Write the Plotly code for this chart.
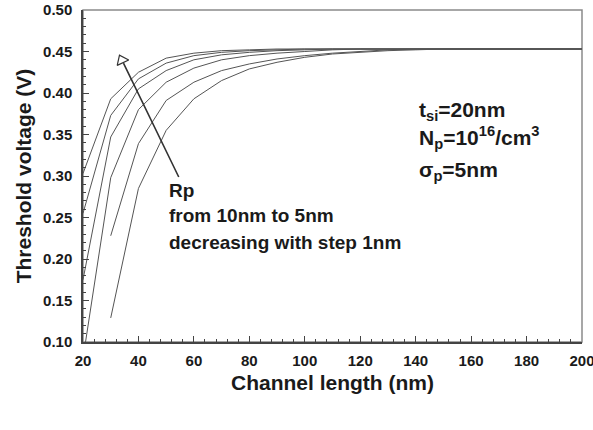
import plotly.graph_objects as go

# Channel length (nm)
L_full = [20, 30, 40, 50, 60, 70, 80, 90, 100, 110, 120, 130, 140, 150, 160, 170, 180, 190, 200]
L_late = L_full[1:]

# Threshold voltage (V) for Rp = 5 ... 10 nm
vt_rp5 = [0.303, 0.393, 0.425, 0.442, 0.448, 0.451, 0.452, 0.453, 0.453, 0.453, 0.453, 0.453, 0.453,
          0.453, 0.453, 0.453, 0.453, 0.453, 0.453]
vt_rp6 = [0.255, 0.373, 0.417, 0.436, 0.445, 0.449, 0.451, 0.452, 0.453, 0.453, 0.453, 0.453, 0.453,
          0.453, 0.453, 0.453, 0.453, 0.453, 0.453]
vt_rp7 = [0.175, 0.347, 0.405, 0.427, 0.440, 0.446, 0.449, 0.451, 0.452, 0.453, 0.453, 0.453, 0.453,
          0.453, 0.453, 0.453, 0.453, 0.453, 0.453]
vt_rp8 = [0.080, 0.298, 0.380, 0.413, 0.430, 0.440, 0.445, 0.448, 0.450, 0.452, 0.453, 0.453, 0.453,
          0.453, 0.453, 0.453, 0.453, 0.453, 0.453]
vt_rp9 = [0.228, 0.339, 0.391, 0.413, 0.427, 0.435, 0.441, 0.445, 0.448, 0.450, 0.452, 0.453,
          0.453, 0.453, 0.453, 0.453, 0.453, 0.453]
vt_rp10 = [0.129, 0.285, 0.355, 0.393, 0.415, 0.429, 0.437, 0.443, 0.447, 0.449, 0.451, 0.452,
           0.453, 0.453, 0.453, 0.453, 0.453, 0.453]

series = [
    ("Rp=5nm", L_full, vt_rp5),
    ("Rp=6nm", L_full, vt_rp6),
    ("Rp=7nm", L_full, vt_rp7),
    ("Rp=8nm", L_full, vt_rp8),
    ("Rp=9nm", L_late, vt_rp9),
    ("Rp=10nm", L_late, vt_rp10),
]

FONT = "Liberation Sans, Arial, sans-serif"
LINE_C = "#555555"

fig = go.Figure()
for name, xs, ys in series:
    fig.add_trace(go.Scatter(x=xs, y=ys, mode="lines", name=name,
                             line=dict(color=LINE_C, width=1), showlegend=False,
                             cliponaxis=True))

# arrow (tail -> tip) in data coordinates
arrow_tail = (54.8, 0.297)
arrow_tip = (34.6, 0.436)
head_pos = (34.0, 0.4395)
fig.add_annotation(x=arrow_tip[0], y=arrow_tip[1], ax=arrow_tail[0], ay=arrow_tail[1],
                   xref="x", yref="y", axref="x", ayref="y", text="",
                   showarrow=True, arrowhead=0, arrowwidth=1.6, arrowcolor="#333333")
fig.add_trace(go.Scatter(x=[head_pos[0]], y=[head_pos[1]], mode="markers", showlegend=False,
                         marker=dict(symbol="triangle-up", size=11, angle=-25, color="white",
                                     line=dict(color="#333333", width=1.2))))

txt_font = dict(family=FONT, size=19, color="#1a1a1a")
rp_lines = ["<b>Rp</b>", "<b>from 10nm to 5nm</b>", "<b>decreasing with step 1nm</b>"]
rp_y = [0.2825, 0.2520, 0.2195]
for t, yv in zip(rp_lines, rp_y):
    fig.add_annotation(x=50.2, y=yv, xref="x", yref="y", text=t, showarrow=False,
                       xanchor="left", yanchor="middle", font=txt_font)

box_font = dict(family=FONT, size=21, color="#1a1a1a")
box_lines = ["<b>t<sub>si</sub>=20nm</b>", "<b>N<sub>p</sub>=10<sup>16</sup>/cm<sup>3</sup></b>",
             "<b>σ<sub>p</sub>=5nm</b>"]
box_y = [0.378, 0.346, 0.306]
for t, yv in zip(box_lines, box_y):
    fig.add_annotation(x=140.6, y=yv, xref="x", yref="y", text=t, showarrow=False,
                       xanchor="left", yanchor="middle", font=box_font)

# frame (top/right lighter)
fig.add_shape(type="rect", xref="paper", yref="paper", x0=0, y0=0, x1=1, y1=1,
              line=dict(color="#8a8a8a", width=1.5), layer="below")

tick_font = dict(family=FONT, size=15, color="#1a1a1a", weight="bold")
fig.update_xaxes(range=[20, 200], tick0=20, dtick=20, ticks="inside", ticklen=6, tickwidth=1.2,
                 tickcolor="#444", showline=True, linecolor="#444", linewidth=1.5,
                 showgrid=False, zeroline=False, tickfont=tick_font, ticklabelstandoff=4,
                 ticklabeloverflow="allow", automargin=False,
                 minor=dict(ticks="inside", dtick=4, ticklen=3, tickcolor="#444", tickwidth=1),
                 title=dict(text="<b>Channel length (nm)</b>",
                            font=dict(family=FONT, size=21, color="#1a1a1a"), standoff=8))
fig.update_yaxes(range=[0.10, 0.50], tick0=0.10, dtick=0.05, tickformat=".2f", ticks="inside",
                 ticklen=6, tickwidth=1.2, tickcolor="#444", showline=True, linecolor="#444",
                 linewidth=1.5, showgrid=False, zeroline=False, tickfont=tick_font,
                 ticklabelstandoff=6, automargin=False,
                 minor=dict(ticks="inside", dtick=0.01, ticklen=3, tickcolor="#444", tickwidth=1),
                 title=dict(text="<b>Threshold voltage (V)</b>",
                            font=dict(family=FONT, size=21, color="#1a1a1a"), standoff=6))

fig.update_layout(width=593, height=430, margin=dict(l=83, r=11, t=10, b=88, autoexpand=False),
                  plot_bgcolor="white", paper_bgcolor="white", showlegend=False)

fig.write_html("out.html")
